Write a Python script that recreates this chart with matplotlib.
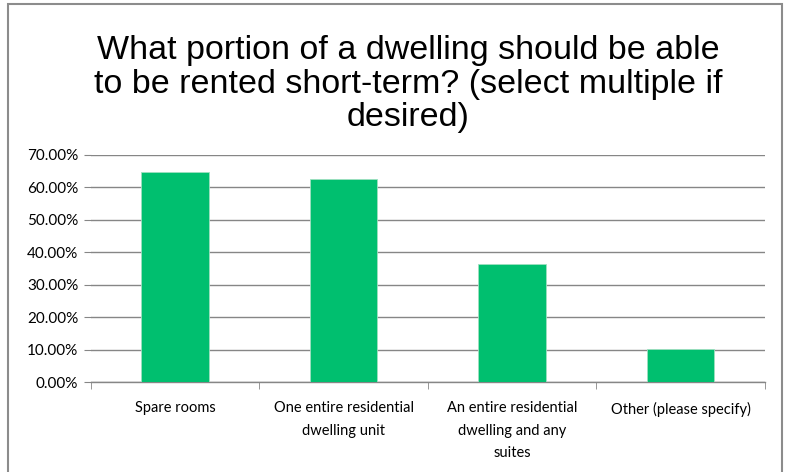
import matplotlib.pyplot as plt
from matplotlib.patches import Rectangle
from matplotlib.ticker import FixedLocator, FuncFormatter

categories = [
    "Spare rooms",
    "One entire residential\ndwelling unit",
    "An entire residential\ndwelling and any\nsuites",
    "Other (please specify)",
]
values = [64.66, 62.5, 36.3, 10.1]
yticks = [0, 10, 20, 30, 40, 50, 60, 70]
title = ("What portion of a dwelling should be able\n"
         "to be rented short-term? (select multiple if\n"
         "desired)")

W, H = 789, 472
fig = plt.figure(figsize=(W / 100, H / 100), dpi=100)
fig.patch.set_facecolor("white")

# outer chart frame
fig.add_artist(Rectangle((7.5 / W, -0.05), (781.5 - 7.5) / W, (H - 3.5) / H + 0.05,
                         transform=fig.transFigure, fill=False,
                         edgecolor="#8c8c8c", linewidth=1.5))

left, right, top, bottom = 90.7, 765, 155, 382
ax = fig.add_axes([left / W, 1 - bottom / H, (right - left) / W, (bottom - top) / H])

x = list(range(len(categories)))
ax.bar(x, values, width=0.4, color="#00BF6F", edgecolor="#9fe0c0", linewidth=0.6, zorder=3)

ax.set_xlim(-0.5, len(categories) - 0.5)
ax.set_ylim(0, 70)
ax.yaxis.set_major_locator(FixedLocator(yticks))
ax.yaxis.set_major_formatter(FuncFormatter(lambda v, p: f"{v:.2f}%"))
ax.grid(axis="y", color="#868686", linewidth=1, zorder=0)

for s in ["top", "right", "left"]:
    ax.spines[s].set_visible(False)
ax.spines["bottom"].set_color("#868686")
ax.spines["bottom"].set_linewidth(1)

ax.tick_params(axis="y", length=5, color="#868686", labelsize=11, pad=4,
               labelcolor="#000000")
ax.set_xticks(x)
ax.set_xticklabels(categories, fontsize=10.5, linespacing=1.75, va="top")
ax.tick_params(axis="x", length=0, pad=14)
ax.set_xticks([i - 0.5 for i in range(len(categories) + 1)], minor=True)
ax.tick_params(axis="x", which="minor", length=5, color="#868686")

for lbl in ax.get_xticklabels() + ax.get_yticklabels():
    lbl.set_fontfamily(["Lato", "DejaVu Sans"])

fig.text(408 / W, 1 - 84 / H, title, ha="center", va="center", fontsize=24.5,
         family=["Liberation Sans", "DejaVu Sans"], linespacing=1.12)

fig.savefig("out.png", dpi=100, facecolor="white")
